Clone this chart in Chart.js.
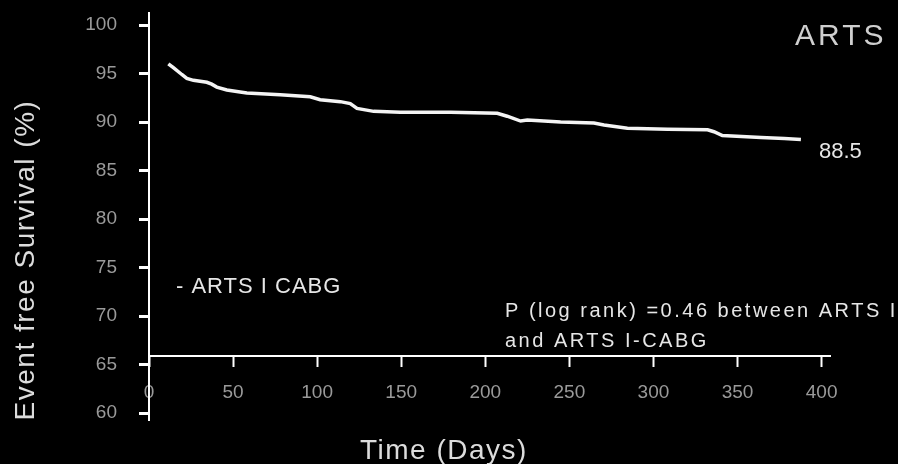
<!DOCTYPE html>
<html>
<head>
<meta charset="utf-8">
<script src="https://cdn.jsdelivr.net/npm/chart.js@4.4.1/dist/chart.umd.min.js"></script>
<style>
  html, body { margin: 0; padding: 0; background: #000; }
  #wrap { width: 898px; height: 464px; position: relative; background: #000; }
</style>
</head>
<body>
<div id="wrap"><canvas id="c"></canvas></div>
<script>
// ---- data ----
const days = [11.5, 14.5, 19.5, 22.5, 26.4, 34.4, 37.3, 40.3, 46.3, 54.2, 58.2, 78, 95.9, 101.8, 113.8, 119.7, 123.7, 133.6, 149.5, 179.3, 207.1, 213, 221, 225, 244.8, 264.6, 270.6, 284.5, 308.3, 332.2, 336, 341, 364, 377.8, 387.7];
const survival = [96.0, 95.6, 94.9, 94.5, 94.3, 94.1, 93.9, 93.6, 93.3, 93.1, 93.0, 92.8, 92.6, 92.3, 92.1, 91.9, 91.4, 91.1, 91.0, 91.0, 90.9, 90.6, 90.1, 90.2, 90.0, 89.9, 89.7, 89.35, 89.25, 89.2, 89.0, 88.6, 88.4, 88.3, 88.2];
const xTickValues = [0, 50, 100, 150, 200, 250, 300, 350, 400];
const yTickValues = [60, 65, 70, 75, 80, 85, 90, 95, 100];
const seriesName = 'ARTS II';
const endLabel = '88.5';
const panelTitle = 'ARTS';
const legendText = '- ARTS I CABG';
const pText = ['P (log rank) =0.46 between ARTS II', 'and ARTS I-CABG'];
const xTitle = 'Time (Days)';
const yTitle = 'Event free Survival (%)';

const points = days.map((d, i) => ({ x: d, y: survival[i] }));

const FONT = '"Liberation Sans", Arial, sans-serif';

const textPlugin = {
  id: 'texts',
  beforeDraw(chart) {
    const ctx = chart.ctx;
    ctx.save();
    ctx.fillStyle = '#000';
    ctx.fillRect(0, 0, chart.width, chart.height);
    ctx.restore();
  },
  afterDraw(chart) {
    const ctx = chart.ctx;
    const xs = chart.scales.x, ys = chart.scales.y;
    ctx.save();
    ctx.fillStyle = '#e6e6e6';
    ctx.textBaseline = 'alphabetic';
    ctx.textAlign = 'left';

    // end value label next to the last point
    const last = points[points.length - 1];
    ctx.font = '22px ' + FONT;
    ctx.letterSpacing = '0px';
    ctx.fillText(endLabel, xs.getPixelForValue(last.x) + 18, ys.getPixelForValue(last.y) + 19);

    // panel title top right
    ctx.font = '30px ' + FONT;
    ctx.letterSpacing = '3px';
    ctx.fillStyle = '#cfcfcf';
    ctx.fillText(panelTitle, 795, 45);

    // legend text
    ctx.fillStyle = '#e6e6e6';
    ctx.font = '22px ' + FONT;
    ctx.letterSpacing = '1px';
    ctx.fillText(legendText, 176, 293);

    // p-value text
    ctx.font = '20px ' + FONT;
    ctx.letterSpacing = '2.5px';
    ctx.fillText(pText[0], 505, 317);
    ctx.fillText(pText[1], 505, 347);

    // x axis title
    ctx.font = '28px ' + FONT;
    ctx.letterSpacing = '1.5px';
    ctx.fillStyle = '#dcdcdc';
    ctx.fillText(xTitle, 360, 459);

    // y axis title
    ctx.translate(34, 260);
    ctx.rotate(-Math.PI / 2);
    ctx.textAlign = 'center';
    ctx.fillText(yTitle, 0, 0);
    ctx.restore();
  }
};

new Chart(document.getElementById('c'), {
  type: 'line',
  data: {
    datasets: [{
      label: seriesName,
      data: points,
      borderColor: '#f4f4f4',
      borderWidth: 3.5,
      pointRadius: 0,
      tension: 0,
      fill: false
    }]
  },
  options: {
    responsive: true,
    maintainAspectRatio: false,
    devicePixelRatio: 1,
    animation: false,
    layout: { padding: { left: 0, right: 68, top: 13, bottom: 44 } },
    plugins: {
      legend: { display: false },
      tooltip: { enabled: false },
      title: { display: false }
    },
    scales: {
      x: {
        type: 'linear',
        position: { y: 65.9 },
        min: 0,
        max: 405,
        afterBuildTicks: s => { s.ticks = xTickValues.map(v => ({ value: v })); },
        afterFit: s => { s.paddingLeft = 0; s.paddingRight = 0; },
        ticks: {
          color: '#9a9a9a',
          font: { family: FONT, size: 19 },
          padding: 16,
          maxRotation: 0,
          autoSkip: false
        },
        grid: {
          drawOnChartArea: false,
          drawTicks: true,
          tickLength: 10,
          tickWidth: 2,
          tickColor: '#ffffff',
          color: '#ffffff'
        },
        border: { display: true, color: '#ffffff', width: 2 }
      },
      y: {
        type: 'linear',
        position: 'left',
        min: 59.28,
        max: 101.24,
        afterBuildTicks: s => { s.ticks = yTickValues.map(v => ({ value: v })); },
        afterFit: s => { s.width = 149; s.paddingTop = 0; s.paddingBottom = 0; },
        ticks: {
          color: '#9a9a9a',
          font: { family: FONT, size: 19 },
          padding: 22,
          autoSkip: false
        },
        grid: {
          drawOnChartArea: false,
          drawTicks: true,
          tickLength: 10,
          tickWidth: 3,
          tickColor: '#ffffff',
          color: '#ffffff'
        },
        border: { display: true, color: '#ffffff', width: 2 }
      }
    }
  },
  plugins: [textPlugin]
});
</script>
</body>
</html>
